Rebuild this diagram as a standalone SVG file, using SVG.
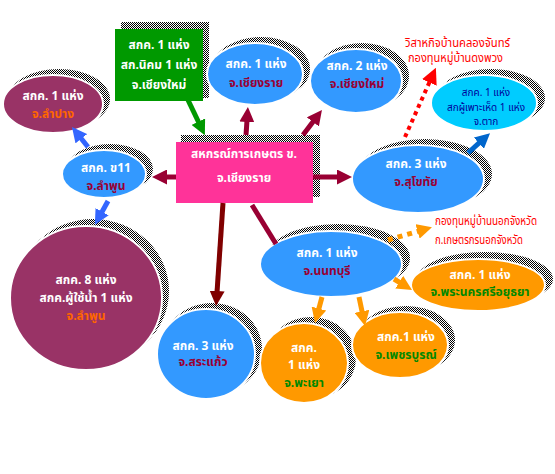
<svg xmlns="http://www.w3.org/2000/svg" width="555" height="474" viewBox="0 0 555 474">
<style>
text{font-family:"Noto Sans Thai","Noto Sans","DejaVu Sans",sans-serif;font-weight:bold;font-size:12px;text-anchor:middle}
.w{fill:#fff}.r{fill:#990033}.o{fill:#FF6600}.g{fill:#008800}
.b{fill:#000099;font-weight:normal;font-size:10px}
.red{fill:#ff0000;font-weight:normal;text-anchor:start}
.sh{fill:url(#chk)}
.blue{fill:#3399FF;stroke:#fff;stroke-width:2}
.org{fill:#FF9900;stroke:#fff;stroke-width:2}
.pur{fill:#993366;stroke:#fff;stroke-width:2}
.ln{fill:none;stroke-width:5}
</style>
<defs>
<pattern id="chk" width="2" height="2" patternUnits="userSpaceOnUse"><rect width="2" height="2" fill="#fff"/><rect width="1" height="1" fill="#000"/><rect x="1" y="1" width="1" height="1" fill="#000"/></pattern>
<marker id="mR" viewBox="0 0 10 10" refX="1" refY="5" markerWidth="3" markerHeight="3" orient="auto"><path d="M0,0L10,5L0,10z" fill="#990033"/></marker>
<marker id="mD" viewBox="0 0 10 10" refX="1" refY="5" markerWidth="3" markerHeight="3" orient="auto"><path d="M0,0L10,5L0,10z" fill="#800000"/></marker>
<marker id="mG" viewBox="0 0 10 10" refX="1" refY="5" markerWidth="3" markerHeight="3" orient="auto"><path d="M0,0L10,5L0,10z" fill="#009900"/></marker>
<marker id="mB" viewBox="0 0 10 10" refX="1" refY="5" markerWidth="3" markerHeight="3" orient="auto"><path d="M0,0L10,5L0,10z" fill="#3366FF"/></marker>
<marker id="mB2" viewBox="0 0 10 10" refX="1" refY="5" markerWidth="3" markerHeight="3" orient="auto"><path d="M0,0L10,5L0,10z" fill="#0066CC"/></marker>
<marker id="mO" viewBox="0 0 10 10" refX="1" refY="5" markerWidth="3" markerHeight="3" orient="auto"><path d="M0,0L10,5L0,10z" fill="#FF9900"/></marker>
<marker id="mRed" viewBox="0 0 10 10" refX="1" refY="5" markerWidth="4" markerHeight="4" orient="auto"><path d="M0,0L10,5L0,10z" fill="#ff0000"/></marker>
</defs>
<rect width="555" height="474" fill="#fff"/>

<g id="green-box">
<rect class="sh" x="121" y="22" width="88" height="76"/>
<rect x="115" y="29" width="88" height="72" fill="#009900"/>
<text class="w" x="159" y="49">สกค. 1 แห่ง</text>
<text class="w" x="159" y="69">สก.นิคม 1 แห่ง</text>
<text class="w" x="159" y="89">จ.เชียงใหม่</text>
</g>

<g id="chiangrai">
<ellipse class="sh" cx="261" cy="69" rx="49" ry="32"/>
<ellipse class="blue" cx="255" cy="74" rx="48" ry="31"/>
<text class="w" x="256" y="68">สกค. 1 แห่ง</text>
<text class="r" x="256" y="87">จ.เชียงราย</text>
</g>

<g id="chiangmai">
<ellipse class="sh" cx="362" cy="76" rx="47" ry="33"/>
<ellipse class="blue" cx="356" cy="81" rx="46" ry="32"/>
<text class="w" x="357" y="70">สกค. 2 แห่ง</text>
<text class="r" x="357" y="88">จ.เชียงใหม่</text>
</g>

<g id="red-note-top">
<text class="red" x="405" y="47" font-size="11.5" textLength="105" lengthAdjust="spacingAndGlyphs">วิสาหกิจบ้านคลองจันทร์</text>
<text class="red" x="408" y="62" font-size="11.5" textLength="95" lengthAdjust="spacingAndGlyphs">กองทุนหมู่บ้านดงพวง</text>
</g>

<g id="tak">
<ellipse class="sh" cx="491" cy="98" rx="54" ry="29"/>
<ellipse cx="484" cy="103" rx="53" ry="28" fill="#00CCFF" stroke="#fff" stroke-width="2"/>
<text class="b" x="486" y="96">สกค. 1 แห่ง</text>
<text class="b" x="486" y="111">สกผู้เพาะเห็ด 1 แห่ง</text>
<text class="b" x="486" y="125">จ.ตาก</text>
</g>

<g id="lampang">
<ellipse class="sh" cx="59" cy="99" rx="51" ry="30"/>
<ellipse class="pur" cx="53" cy="104" rx="50" ry="29"/>
<text class="w" x="53" y="100">สกค. 1 แห่ง</text>
<text class="o" x="53" y="118">จ.ลำปาง</text>
</g>

<g id="lamphun-small">
<ellipse class="sh" cx="110" cy="169" rx="43" ry="25"/>
<ellipse class="blue" cx="104" cy="174" rx="42" ry="24"/>
<text class="w" x="106" y="172">สกค. ข11</text>
<text class="r" x="106" y="190">จ.ลำพูน</text>
</g>

<g id="pink-box">
<rect class="sh" x="181" y="135" width="139" height="62"/>
<rect x="176" y="142" width="137" height="61" fill="#FF3399"/>
<text class="w" x="244" y="158" font-size="14">สหกรณ์การเกษตร ข.</text>
<text class="w" x="244" y="182" font-size="14">จ.เชียงราย</text>
</g>

<g id="sukhothai">
<ellipse class="sh" cx="425" cy="174" rx="67" ry="35"/>
<ellipse class="blue" cx="418" cy="179" rx="66" ry="34"/>
<text class="w" x="416" y="168">สกค. 3 แห่ง</text>
<text class="r" x="416" y="186">จ.สุโขทัย</text>
</g>

<g id="red-note-right">
<text class="red" x="435" y="225" font-size="11" textLength="102" lengthAdjust="spacingAndGlyphs">กองทุนหมู่บ้านนอกจังหวัด</text>
<text class="red" x="435" y="244" font-size="11" textLength="88" lengthAdjust="spacingAndGlyphs">ก.เกษตรกรนอกจังหวัด</text>
</g>

<g id="lamphun-big">
<ellipse class="sh" cx="93" cy="291" rx="76" ry="72"/>
<ellipse class="pur" cx="86" cy="298" rx="76" ry="72"/>
<text class="w" x="86" y="284">สกค. 8 แห่ง</text>
<text class="w" x="86" y="302">สกค.ผู้ใช้น้ำ 1 แห่ง</text>
<text class="o" x="86" y="320">จ.ลำพูน</text>
</g>

<g id="nonthaburi">
<ellipse class="sh" cx="338" cy="258" rx="72" ry="34"/>
<ellipse class="blue" cx="331" cy="264" rx="71" ry="33"/>
<text class="w" x="327" y="257">สกค. 1 แห่ง</text>
<text class="r" x="327" y="275">จ.นนทบุรี</text>
</g>

<g id="ayutthaya">
<ellipse class="sh" cx="485" cy="279" rx="68" ry="27"/>
<ellipse class="org" cx="478" cy="285" rx="67" ry="26"/>
<text class="w" x="480" y="279">สกค. 1 แห่ง</text>
<text class="g" x="480" y="296">จ.พระนครศรีอยุธยา</text>
</g>

<g id="sakaeo">
<ellipse class="sh" cx="212" cy="349" rx="50" ry="46"/>
<ellipse class="blue" cx="206" cy="354" rx="49" ry="45"/>
<text class="w" x="203" y="350" font-size="11">สกค. 3 แห่ง</text>
<text class="r" x="203" y="366" font-size="11">จ.สระแก้ว</text>
</g>

<g id="phayao">
<ellipse class="sh" cx="311" cy="358" rx="45" ry="41"/>
<ellipse class="org" cx="304" cy="363" rx="44" ry="40"/>
<text class="w" x="304" y="352">สกค.</text>
<text class="w" x="304" y="369">1 แห่ง</text>
<text class="g" x="304" y="387">จ.พะเยา</text>
</g>

<g id="phetchabun">
<ellipse class="sh" cx="406" cy="340" rx="49" ry="34"/>
<ellipse class="org" cx="400" cy="345" rx="48" ry="33"/>
<text class="w" x="406" y="341">สกค.1 แห่ง</text>
<text class="g" x="406" y="359">จ.เพชรบูรณ์</text>
</g>

<g id="connectors">
<line class="ln" x1="188" y1="100" x2="199" y2="123" stroke="#009900" marker-end="url(#mG)"/>
<line class="ln" x1="176" y1="177" x2="165.5" y2="177" stroke="#990033" marker-end="url(#mR)"/>
<line class="ln" x1="246" y1="135" x2="247" y2="120.5" stroke="#990033" marker-end="url(#mR)"/>
<line class="ln" x1="303" y1="135" x2="313.8" y2="120.7" stroke="#990033" marker-end="url(#mR)"/>
<line class="ln" x1="313" y1="177" x2="338.5" y2="177" stroke="#990033" marker-end="url(#mR)"/>
<line class="ln" x1="223" y1="203" x2="217" y2="292.5" stroke="#800000" marker-end="url(#mD)"/>
<line class="ln" x1="276" y1="244" x2="252" y2="205" stroke="#990033"/>
<line class="ln" x1="88" y1="147" x2="80.4" y2="137.5" stroke="#3366FF" marker-end="url(#mB)"/>
<line class="ln" x1="108" y1="201" x2="101.4" y2="213" stroke="#3366FF" marker-end="url(#mB)"/>
<line class="ln" x1="468" y1="153" x2="480" y2="142.2" stroke="#0066CC" marker-end="url(#mB2)"/>
<line x1="405" y1="137" x2="430" y2="81" stroke="#ff0000" stroke-width="4" stroke-dasharray="4 4" marker-end="url(#mRed)"/>
<line x1="388" y1="240" x2="419" y2="231" stroke="#FF9900" stroke-width="5" stroke-dasharray="5 5" marker-end="url(#mO)"/>
<line class="ln" x1="394" y1="279" x2="400.5" y2="283" stroke="#FF9900" marker-end="url(#mO)"/>
<line class="ln" x1="322" y1="297" x2="318.5" y2="310" stroke="#FF9900" marker-end="url(#mO)"/>
<line class="ln" x1="359" y1="297" x2="362.3" y2="312.8" stroke="#FF9900" marker-end="url(#mO)"/>
</g>
</svg>
